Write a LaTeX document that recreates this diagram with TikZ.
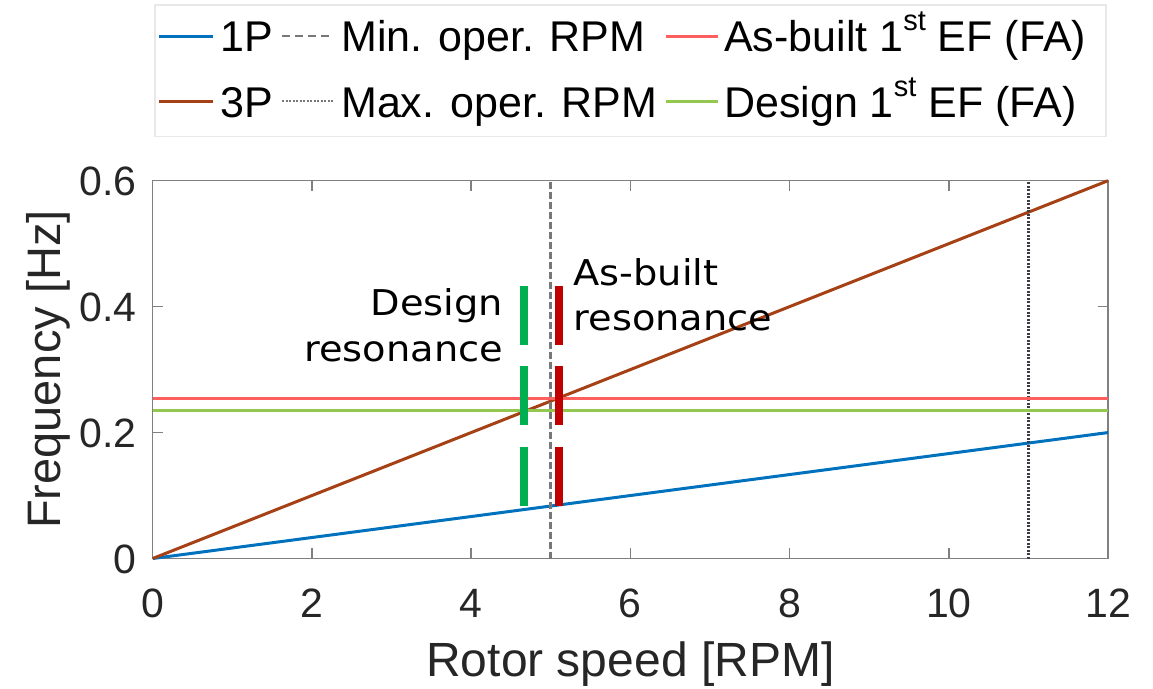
\documentclass[tikz,border=0pt]{standalone}
\usepackage{fontspec}
\setmainfont{Liberation Sans}
\newfontfamily\annfont{DejaVu Sans}[FakeStretch=1.08]
\definecolor{oneP}{RGB}{0,114,189}
\definecolor{threeP}{RGB}{165,65,20}
\definecolor{asbuiltEF}{RGB}{255,95,95}
\definecolor{designEF}{RGB}{146,200,80}
\definecolor{designRes}{RGB}{0,176,80}
\definecolor{asbuiltRes}{RGB}{192,0,0}
\definecolor{minRPM}{RGB}{120,120,120}
\definecolor{maxRPM}{RGB}{60,60,70}
\definecolor{axisgray}{RGB}{128,128,128}
\definecolor{legframe}{RGB}{232,232,232}
\tikzset{
  ticklab/.style={font=\fontsize{41}{41}\selectfont, inner sep=0pt, text=black!85},
  axlab/.style={font=\fontsize{48}{48}\selectfont, inner sep=0pt, text=black!85},
  leglab/.style={font=\fontsize{43}{43}\selectfont, inner sep=0pt, anchor=base west},
  annlab/.style={font=\annfont\fontsize{35.5}{35.5}\selectfont, inner sep=0pt},
  onePline/.style={oneP, line width=3pt},
  threePline/.style={threeP, line width=3pt},
  asbuiltline/.style={asbuiltEF, line width=3.5pt},
  designline/.style={designEF, line width=3.5pt},
  minline/.style={minRPM, line width=2.6pt, dash pattern=on 6.5pt off 3.5pt},
  maxline/.style={maxRPM, line width=2.4pt, dash pattern=on 2pt off 1.5pt},
  resbar/.style={line width=8pt, dash pattern=on 59pt off 21.3pt},
}
\newcommand{\supst}{\raisebox{21pt}{\fontsize{29}{29}\selectfont st}}
\begin{document}
\begin{tikzpicture}[x=1pt,y=-1pt]
\useasboundingbox (0,0) rectangle (1153,688);

% legend frame
\draw[legframe, line width=1.2pt] (155,5) rectangle (1106,136.7);

% legend samples
\coordinate (l1a) at (159,36);  \coordinate (l1b) at (213,36);
\coordinate (l2a) at (159,101); \coordinate (l2b) at (213,101);
\coordinate (l3a) at (282,36);  \coordinate (l3b) at (333,36);
\coordinate (l4a) at (282,101); \coordinate (l4b) at (333,101);
\coordinate (l5a) at (666,36);  \coordinate (l5b) at (718,36);
\coordinate (l6a) at (666,101); \coordinate (l6b) at (718,101);
\draw[onePline] (l1a) -- (l1b);
\draw[threePline] (l2a) -- (l2b);
\draw[minline, line width=2.2pt, dash pattern=on 8pt off 5pt] (l3a) -- (l3b);
\draw[maxline, minRPM, line width=2pt] (l4a) -- (l4b);
\draw[asbuiltline, line width=3pt] (l5a) -- (l5b);
\draw[designline, line width=3pt] (l6a) -- (l6b);
\node[leglab] (t1P) at (220,51) {1P};
\node[leglab] (t3P) at (220,117) {3P};
\node[leglab] (tmin) at (341,51) {Min. oper. RPM};
\node[leglab] (tmax) at (341,117) {Max. oper. RPM};
\node[leglab] (tas) at (724,51) {As-built 1\supst{} EF (FA)};
\node[leglab] (tdes) at (724,117) {Design 1\supst{} EF (FA)};

% axes in data units: x = rotor speed [RPM], y = frequency [Hz]
\begin{scope}[shift={(152.7,558.5)}, x=79.61pt, y=629.67pt]
  \draw[axisgray, line width=1.5pt] (0,0) rectangle (12,0.6);
  \foreach \r in {0,2,...,12} {
    \draw[axisgray, line width=1.5pt] (\r,0) -- ++(0,0.016);
    \draw[axisgray, line width=1.5pt] (\r,0.6) -- ++(0,-0.016);
    \node[ticklab, anchor=base] (xt\r) at (\r,-0.0933) {\r};
  }
  \foreach \f/\lab in {0/0,0.2/0.2,0.4/0.4,0.6/0.6} {
    \draw[axisgray, line width=1.5pt] (0,\f) -- ++(0.126,0);
    \draw[axisgray, line width=1.5pt] (12,\f) -- ++(-0.126,0);
    \node[ticklab, anchor=base east] at ([xshift=-15.7pt, yshift=-14.7pt]0,\f) {\lab};
  }
  \coordinate (o) at (0,0);
  \coordinate (p1) at (12,0.2);
  \coordinate (p3) at (12,0.6);
  \coordinate (mina) at (5,0);  \coordinate (minb) at (5,0.6);
  \coordinate (maxa) at (11,0); \coordinate (maxb) at (11,0.6);
  \coordinate (asa) at (0,0.254); \coordinate (asb) at (12,0.254);
  \coordinate (dsa) at (0,0.235); \coordinate (dsb) at (12,0.235);
  \draw[onePline] (o) -- (p1);
  \draw[threePline] (o) -- (p3);
  \draw[minline] (mina) -- (minb);
  \draw[maxline] (maxa) -- (maxb);
  \draw[asbuiltline] (asa) -- (asb);
  \draw[designline] (dsa) -- (dsb);
\end{scope}

% resonance markers
\coordinate (dra) at (524.3,286); \coordinate (drb) at (524.3,506);
\coordinate (ara) at (559,286);   \coordinate (arb) at (559,506);
\draw[resbar, designRes] (dra) -- (drb);
\draw[resbar, asbuiltRes] (ara) -- (arb);

\node[annlab, anchor=base east] (des1) at (503.3,315) {Design};
\node[annlab, anchor=base east] (des2) at (503.3,361.7) {resonance};
\node[annlab, anchor=base west] (as1) at (573.3,285) {As-built};
\node[annlab, anchor=base west] (as2) at (573.3,330) {resonance};

% axis titles
\node[axlab, anchor=base] (xlab) at (630.4,676) {Rotor speed [RPM]};
\node[axlab, anchor=base, rotate=90, font=\fontsize{47}{47}\selectfont] (ylab) at (60,369.6) {Frequency [Hz]};
\end{tikzpicture}
\end{document}
